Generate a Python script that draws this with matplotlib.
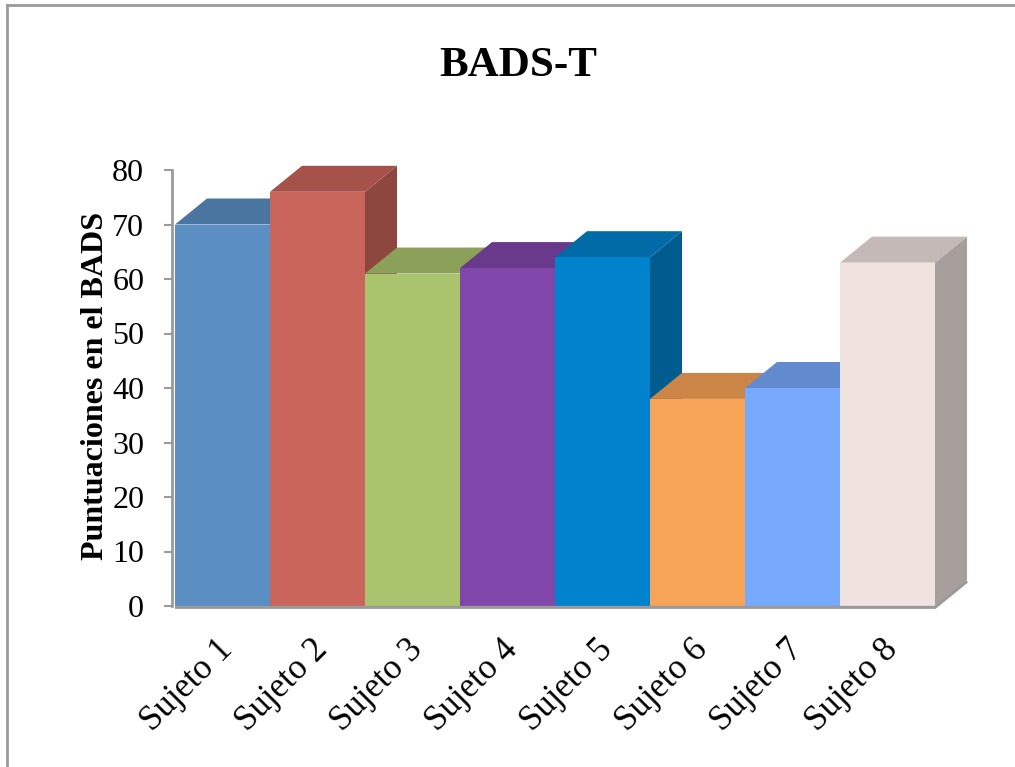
import matplotlib.pyplot as plt
from matplotlib.patches import Polygon
from matplotlib.colors import to_rgb

# Datos
sujetos = ["Sujeto 1", "Sujeto 2", "Sujeto 3", "Sujeto 4",
           "Sujeto 5", "Sujeto 6", "Sujeto 7", "Sujeto 8"]
puntuaciones = [70, 76, 61, 62, 64, 38, 40, 63]
colores = ["#5B8FC4", "#C9655A", "#A9C46C", "#8046A9",
           "#0083CC", "#F8A456", "#77AAFC", "#F0E2DF"]

plt.rcParams['font.family'] = ['Liberation Serif', 'DejaVu Serif']

fig = plt.figure(figsize=(10.15, 7.67), dpi=100)
W, H = 1015, 767

# marco del gráfico
fig.add_artist(plt.Line2D([7 / W, 7 / W], [0, 1 - 5 / H], color="#9a9a9a", lw=2))
fig.add_artist(plt.Line2D([7 / W, 1], [1 - 5 / H, 1 - 5 / H], color="#9a9a9a", lw=2))

# ejes: x=0 en 175 px, 95 px por barra; y=0 en 606 px, 5.45 px por punto
x0_px, px_bar = 175, 95
y0_px, px_pt = 606, 5.45
left_px, right_px, top_px = 172, 1005, 100
ax = fig.add_axes([left_px / W, (H - y0_px) / H,
                   (right_px - left_px) / W, (y0_px - top_px) / H])
ax.set_xlim((left_px - x0_px) / px_bar, (right_px - x0_px) / px_bar)
ax.set_ylim(0, (y0_px - top_px) / px_pt)

# profundidad del efecto 3D
dx = 32 / px_bar
dy = 26 / px_pt


def oscurecer(c, f):
    r, g, b = to_rgb(c)
    return (r * f, g * f, b * f)


# de izquierda a derecha: cada barra tapa el lateral de la anterior
for i, (v, c) in enumerate(zip(puntuaciones, colores)):
    x1, x2 = i, i + 1
    lateral = [(x2, 0), (x2 + dx, dy), (x2 + dx, v + dy), (x2, v)]
    techo = [(x1, v), (x1 + dx, v + dy), (x2 + dx, v + dy), (x2, v)]
    frente = [(x1, 0), (x2, 0), (x2, v), (x1, v)]
    ax.add_patch(Polygon(lateral, closed=True, fc=oscurecer(c, 0.70), ec="none"))
    ax.add_patch(Polygon(techo, closed=True, fc=oscurecer(c, 0.82), ec="none"))
    ax.add_patch(Polygon(frente, closed=True, fc=c, ec="none"))

# suelo
n = len(puntuaciones)
ax.plot([0, n, n + dx], [-0.25, -0.25, dy - 0.25], color="#9a9a9a", lw=2.2,
        solid_capstyle="butt", clip_on=False)

for s in ["top", "right", "bottom"]:
    ax.spines[s].set_visible(False)
ax.spines["left"].set_bounds(0, 80)
ax.spines["left"].set_color("#9a9a9a")
ax.spines["left"].set_linewidth(2)
ax.set_yticks(range(0, 81, 10))
ax.tick_params(axis="y", direction="out", length=6, width=1.5, color="#9a9a9a",
               labelsize=23, pad=14)
ax.set_xticks([])

for i, s in enumerate(sujetos):
    ax.text(i + 0.43, -5.0, s, rotation=45, ha="right", va="top",
            rotation_mode="anchor", fontsize=25, clip_on=False)

fig.text(518 / W, 1 - 66 / H, "BADS-T", ha="center", va="center",
         fontsize=31, fontweight="bold")
fig.text(96 / W, 1 - 386 / H, "Puntuaciones en el BADS", ha="center", va="center",
         rotation=90, fontsize=23, fontweight="bold")

fig.savefig("out.png", dpi=100)
